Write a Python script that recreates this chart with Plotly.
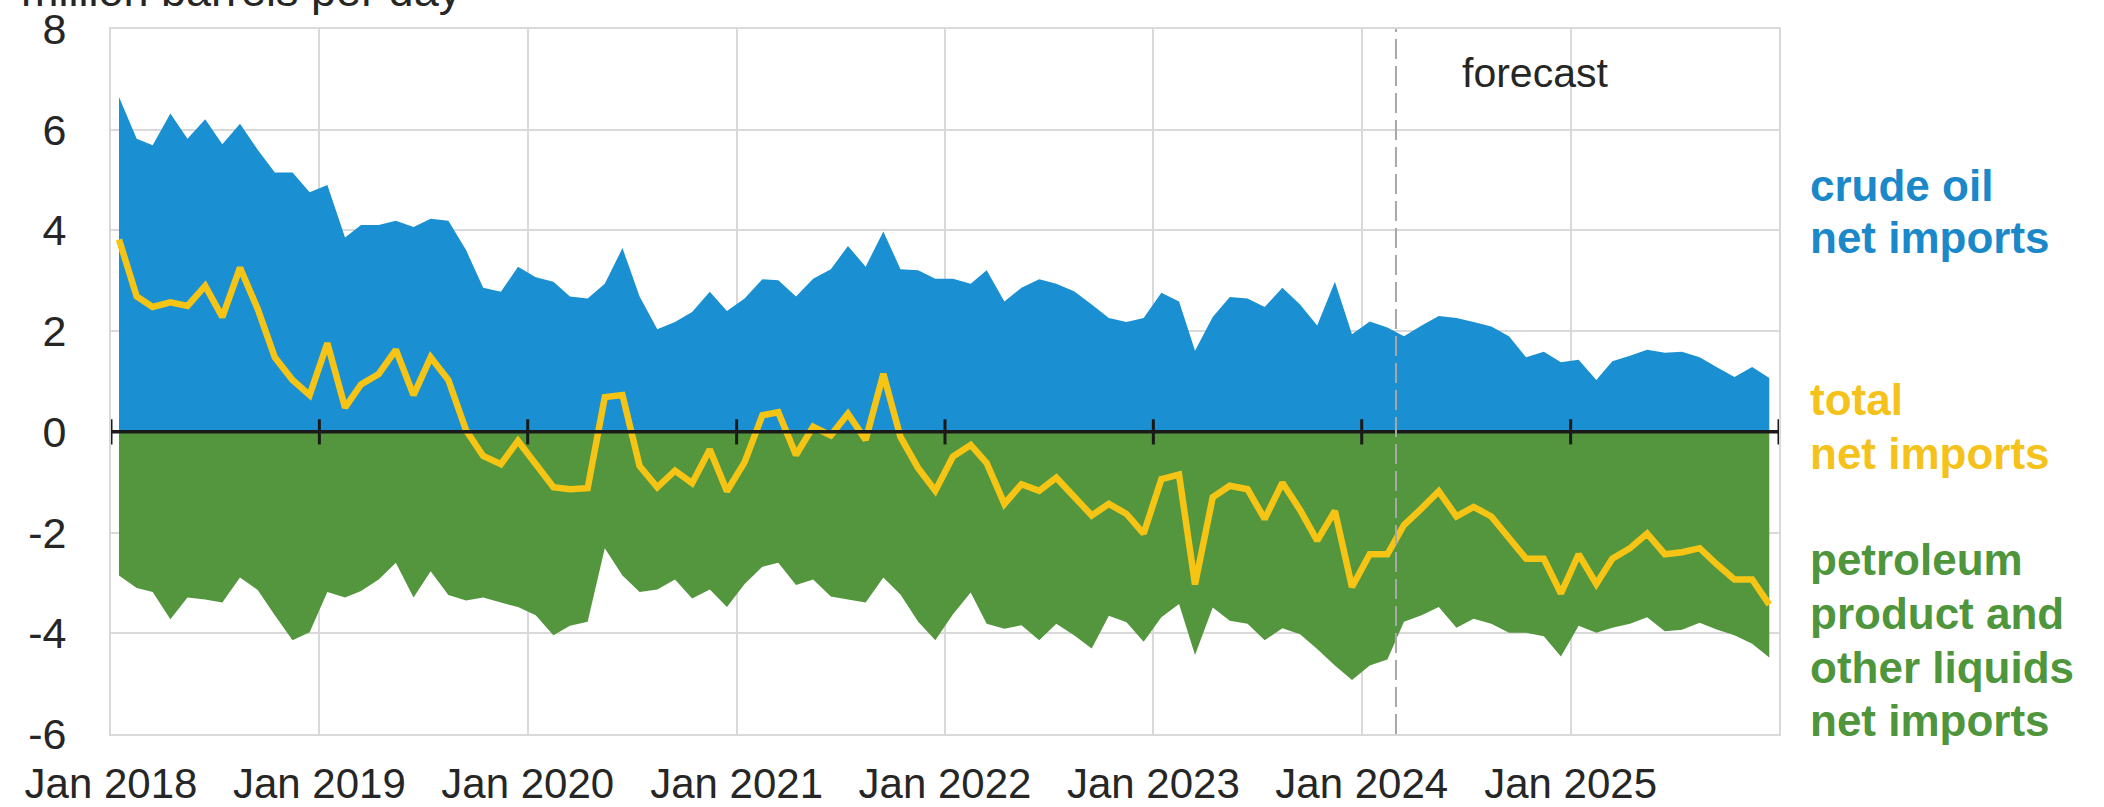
import plotly.graph_objects as go

# ---------------- data (million barrels per day), monthly Jan 2018 - Dec 2025 ----------------
months = [f"{2018 + i // 12}-{i % 12 + 1:02d}-15" for i in range(96)]

crude_net_imports = [
    6.65, 5.82, 5.69, 6.32, 5.82, 6.21, 5.71, 6.12, 5.60, 5.15, 5.15, 4.76,
    4.90, 3.86, 4.11, 4.11, 4.19, 4.07, 4.23, 4.19, 3.61, 2.86, 2.78, 3.28,
    3.07, 2.98, 2.69, 2.65, 2.94, 3.65, 2.69, 2.04, 2.18, 2.38, 2.78, 2.40,
    2.65, 3.03, 3.01, 2.69, 3.04, 3.23, 3.69, 3.28, 3.98, 3.23, 3.21, 3.04,
    3.04, 2.94, 3.21, 2.59, 2.86, 3.03, 2.94, 2.79, 2.53, 2.26, 2.18, 2.26,
    2.76, 2.59, 1.61, 2.28, 2.68, 2.65, 2.48, 2.86, 2.53, 2.11, 2.98, 1.94,
    2.19, 2.07, 1.90, 2.11, 2.30, 2.26, 2.18, 2.09, 1.90, 1.48, 1.59, 1.38,
    1.43, 1.03, 1.40, 1.51, 1.63, 1.57, 1.59, 1.48, 1.28, 1.09, 1.29, 1.07,
]

product_net_imports = [
    -2.85, -3.10, -3.18, -3.72, -3.29, -3.33, -3.39, -2.89, -3.14, -3.64, -4.14, -3.98,
    -3.18, -3.29, -3.16, -2.93, -2.60, -3.29, -2.77, -3.24, -3.35, -3.29, -3.39, -3.48,
    -3.64, -4.04, -3.85, -3.77, -2.31, -2.85, -3.18, -3.13, -2.93, -3.31, -3.13, -3.48,
    -3.02, -2.68, -2.60, -3.04, -2.93, -3.27, -3.33, -3.39, -2.89, -3.23, -3.77, -4.14,
    -3.62, -3.19, -3.81, -3.91, -3.84, -4.14, -3.81, -4.04, -4.30, -3.65, -3.78, -4.17,
    -3.68, -3.42, -4.43, -3.49, -3.75, -3.81, -4.14, -3.90, -4.02, -4.31, -4.64, -4.93,
    -4.64, -4.52, -3.77, -3.64, -3.48, -3.89, -3.71, -3.81, -3.99, -3.99, -4.06, -4.46,
    -3.85, -3.99, -3.89, -3.81, -3.68, -3.96, -3.93, -3.79, -3.93, -4.04, -4.21, -4.48,
]

total_net_imports = [
    3.82, 2.69, 2.48, 2.57, 2.50, 2.90, 2.28, 3.26, 2.44, 1.48, 1.03, 0.73,
    1.76, 0.48, 0.94, 1.15, 1.63, 0.73, 1.48, 1.03, 0.03, -0.48, -0.64, -0.18,
    -0.64, -1.10, -1.14, -1.12, 0.69, 0.73, -0.68, -1.10, -0.77, -1.02, -0.35, -1.18,
    -0.60, 0.33, 0.39, -0.46, 0.10, -0.07, 0.36, -0.16, 1.15, -0.10, -0.72, -1.17,
    -0.49, -0.26, -0.62, -1.43, -1.04, -1.17, -0.91, -1.30, -1.66, -1.43, -1.63, -2.02,
    -0.94, -0.85, -3.03, -1.30, -1.07, -1.14, -1.73, -1.01, -1.55, -2.16, -1.57, -3.08,
    -2.43, -2.43, -1.85, -1.52, -1.18, -1.68, -1.49, -1.68, -2.10, -2.52, -2.52, -3.21,
    -2.43, -3.02, -2.52, -2.31, -2.02, -2.43, -2.39, -2.31, -2.64, -2.93, -2.93, -3.43,
]

years = list(range(2018, 2026))
tick_vals = [f"{y}-01-01" for y in years]
tick_text = [f"Jan {y}" for y in years]
axis_ticks = [f"{y}-01-01" for y in range(2018, 2027)]
y_ticks = [-6, -4, -2, 0, 2, 4, 6, 8]
y_tick_text = ["-6", "-4", "-2", "0", "2", "4", "6", "8"]
forecast_start = "2024-03-01"

# right-hand labels: (line text, colour key, y position in data units)
label_lines = [
    ("crude oil", "crude", 4.90),
    ("net imports", "crude", 3.86),
    ("total", "total", 0.64),
    ("net imports", "total", -0.43),
    ("petroleum", "product", -2.53),
    ("product and", "product", -3.60),
    ("other liquids", "product", -4.67),
    ("net imports", "product", -5.73),
]

BLUE = "#1a8fd1"
GREEN = "#53963d"
YELLOW = "#f6c414"
LABEL_COLORS = {"crude": "#1a88c9", "total": "#f4c21a", "product": "#4e953b"}
GRID = "#d9d9d9"
TXT = "#262626"
FONT = "Liberation Sans, Arial, sans-serif"

fig = go.Figure()
fig.add_trace(go.Scatter(x=months, y=crude_net_imports, mode="none", fill="tozeroy",
                         fillcolor=BLUE, name="crude oil net imports", hoverinfo="x+y"))
fig.add_trace(go.Scatter(x=months, y=product_net_imports, mode="none", fill="tozeroy",
                         fillcolor=GREEN, name="petroleum product and other liquids net imports",
                         hoverinfo="x+y"))
fig.add_trace(go.Scatter(x=months, y=total_net_imports, mode="lines",
                         line=dict(color=YELLOW, width=6.5), name="total net imports"))

shapes = []
shapes.append(dict(type="line", xref="x", yref="y", x0=axis_ticks[0], x1=axis_ticks[-1],
                   y0=0, y1=0, line=dict(color="#1a1a1a", width=3.5), layer="above"))
for t in axis_ticks:
    shapes.append(dict(type="line", xref="x", yref="y", x0=t, x1=t, y0=-0.25, y1=0.25,
                       line=dict(color="#1a1a1a", width=3), layer="above"))
shapes.append(dict(type="line", xref="x", yref="y", x0=forecast_start, x1=forecast_start,
                   y0=-6, y1=8, line=dict(color="#a8a8a8", width=2, dash="20px,7px"),
                   layer="above"))

annotations = [
    dict(text="million barrels per day", xref="paper", yref="paper", x=-0.055, y=1.0155,
         xanchor="left", yanchor="bottom", showarrow=False,
         font=dict(family=FONT, size=45, color=TXT)),
    dict(text="forecast", xref="paper", yref="y", x=0.854, y=7.12, xanchor="center",
         yanchor="middle", showarrow=False, font=dict(family=FONT, size=41, color=TXT)),
]
for txt, key, yv in label_lines:
    annotations.append(dict(text=txt, xref="paper", yref="y", x=1.0174, y=yv,
                            xanchor="left", yanchor="middle", align="left", showarrow=False,
                            font=dict(family=FONT, size=44, color=LABEL_COLORS[key],
                                      weight="bold")))

fig.update_layout(
    width=2104, height=807,
    margin=dict(l=111, r=325, t=29, b=73),
    paper_bgcolor="white", plot_bgcolor="white",
    showlegend=False,
    font=dict(family=FONT, color=TXT),
    shapes=shapes, annotations=annotations,
    xaxis=dict(type="date", range=[axis_ticks[0], axis_ticks[-1]], tickvals=tick_vals,
               ticktext=tick_text, showgrid=True, gridcolor=GRID, gridwidth=1.5,
               showline=True, linecolor=GRID, linewidth=2, mirror=True, ticks="",
               tickfont=dict(family=FONT, size=42, color=TXT), ticklabelstandoff=12,
               zeroline=False, automargin=False),
    yaxis=dict(range=[-6, 8], tickvals=y_ticks, ticktext=y_tick_text, showgrid=True,
               gridcolor=GRID, gridwidth=1.5,
               showline=True, linecolor=GRID, linewidth=2, mirror=True, ticks="",
               tickfont=dict(family=FONT, size=43, color=TXT), ticklabelstandoff=34,
               zeroline=False, automargin=False),
)

fig.write_html(
    "out.html",
    config={"displayModeBar": False},
    post_script="document.body.style.margin='0';document.body.style.padding='0';"
                "document.documentElement.style.overflow='hidden';",
)
